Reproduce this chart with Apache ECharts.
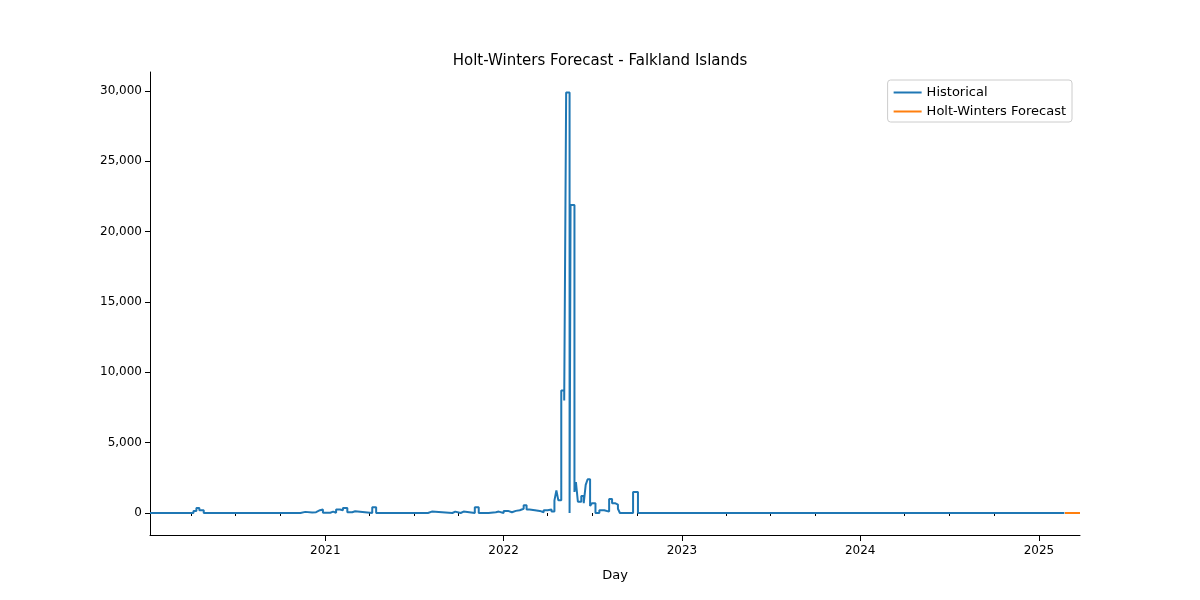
<!DOCTYPE html>
<html><head><meta charset="utf-8">
<script src="https://cdn.jsdelivr.net/npm/echarts@6/dist/echarts.min.js"></script>
<style>body{margin:0}#c{width:1200px;height:600px}</style></head>
<body><div id="c"></div>
<script>
const histDates = ['2020-01-08','2020-04-06','2020-04-12','2020-04-18','2020-04-27','2020-11-11','2020-11-21','2020-12-05','2020-12-13','2020-12-21','2020-12-27',
'2021-01-11','2021-01-17','2021-01-23','2021-01-31','2021-02-06','2021-02-15','2021-02-25','2021-03-03','2021-04-07','2021-04-15','2021-07-30','2021-08-07',
'2021-09-18','2021-09-24','2021-10-05','2021-10-11','2021-11-03','2021-11-11','2021-12-01','2021-12-16','2021-12-22',
'2022-01-01','2022-01-10','2022-01-18','2022-01-26','2022-02-03','2022-02-11','2022-02-17','2022-02-23','2022-03-06','2022-03-16','2022-03-24','2022-04-01',
'2022-04-09','2022-04-15','2022-04-19','2022-04-23','2022-04-29','2022-05-05','2022-05-09','2022-05-16','2022-05-18','2022-05-26','2022-05-29','2022-06-02',
'2022-06-09','2022-06-14','2022-06-18','2022-06-22','2022-06-27','2022-07-01','2022-07-08','2022-07-16','2022-07-26','2022-08-05','2022-08-11','2022-08-17',
'2022-08-23','2022-08-27','2022-09-23','2022-10-03','2025-02-22'];
const histValues = [0,150,350,200,0,80,40,60,200,250,20,
100,20,250,200,350,50,120,0,400,0,100,0,
100,0,100,0,400,0,50,100,0,
150,50,150,200,300,550,250,200,150,50,200,250,
100,900,1600,900,8700,8000,29900,0,21900,1500,2200,800,
1200,700,2000,2400,500,700,0,200,100,1000,700,600,
300,0,1500,0,0];
const fcDates = ['2025-02-23','2025-03-26'];
const fcValues = [0,0];
const yTicks = [0,5000,10000,15000,20000,25000,30000];
const yearTicks = ['2021-01-01','2022-01-01','2023-01-01','2024-01-01','2025-01-01'];
const quarterTicks = ['2020-04-01','2020-07-01','2020-10-01','2021-04-01','2021-07-01','2021-10-01','2022-04-01','2022-07-01','2022-10-01',
'2023-04-01','2023-07-01','2023-10-01','2024-04-01','2024-07-01','2024-10-01'];

const ts = d => new Date(d + 'T00:00:00Z').getTime();
const xMin = ts('2020-01-08'), xMax = ts('2025-03-26');
const font = 'DejaVu Sans';

const chart = echarts.init(document.getElementById('c'));
chart.setOption({
  animation: false,
  textStyle: {fontFamily: font},
  title: {text: 'Holt-Winters Forecast - Falkland Islands', left: 'center', top: 49,
    textStyle: {fontFamily: font, fontSize: 15, fontWeight: 'normal', color: '#000'}},
  legend: {right: 128, top: 80, orient: 'vertical', itemGap: 6, itemWidth: 28, itemHeight: 2,
    borderColor: '#ccc', borderWidth: 1, borderRadius: 3, padding: [6, 6, 4, 6],
    textStyle: {fontSize: 13, color: '#000'},
    data: [{name: 'Historical', icon: 'rect'}, {name: 'Holt-Winters Forecast', icon: 'rect'}]},
  grid: {left: 150, right: 120, top: 72, bottom: 65},
  xAxis: [{
    type: 'value', min: xMin, max: xMax, name: 'Day', nameLocation: 'middle', nameGap: 34,
    nameTextStyle: {fontSize: 13, color: '#000'},
    axisLine: {onZero: false, lineStyle: {color: '#000'}},
    splitLine: {show: false},
    axisTick: {customValues: yearTicks.map(ts), length: 6, lineStyle: {color: '#000'}},
    axisLabel: {customValues: yearTicks.map(ts), color: '#000', fontSize: 12, margin: 10,
      formatter: v => String(new Date(v).getUTCFullYear())}
  }, {
    type: 'value', min: xMin, max: xMax, position: 'bottom',
    axisLine: {show: false}, splitLine: {show: false},
    axisTick: {customValues: quarterTicks.map(ts), length: 3, lineStyle: {color: '#000'}},
    axisLabel: {show: false}
  }],
  yAxis: {
    type: 'value', min: -1564, max: 31350,
    axisLine: {show: true, lineStyle: {color: '#000'}},
    splitLine: {show: false},
    axisTick: {show: true, customValues: yTicks, length: 5, lineStyle: {color: '#000'}},
    axisLabel: {customValues: yTicks, color: '#000', fontSize: 12, margin: 8}
  },
  series: [
    {name: 'Historical', type: 'line', step: 'end', showSymbol: false, color: '#1f77b4',
      lineStyle: {width: 2}, data: histDates.map((d, i) => [ts(d), histValues[i]])},
    {name: 'Holt-Winters Forecast', type: 'line', showSymbol: false, color: '#ff7f0e',
      lineStyle: {width: 2}, data: fcDates.map((d, i) => [ts(d), fcValues[i]])}
  ]
});
</script></body></html>
